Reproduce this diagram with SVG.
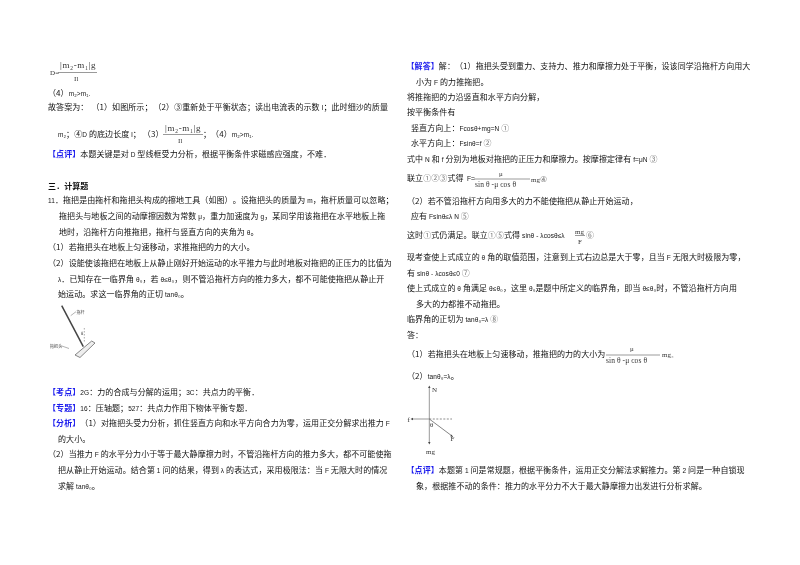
<svg xmlns="http://www.w3.org/2000/svg" width="800" height="565" viewBox="0 0 800 565">
<style>
text{font-family:"Noto Sans CJK SC","Liberation Sans",sans-serif;font-size:8px;fill:#111;text-spacing-trim:space-all;letter-spacing:.08px}
.l{font-family:"Liberation Sans",sans-serif;font-size:6.5px}
.b{fill:#1a1aee;font-weight:700}
.h{font-weight:700}
.c{fill:#777}
.m{font-family:"Liberation Serif",serif;font-size:7px;fill:#333}
.n{font-size:9px;letter-spacing:.6px}
.s{font-size:4px;fill:#444}
.fr{stroke:#555;stroke-width:.6;fill:none}
</style>
<defs><filter id="soft" x="0" y="0" width="1" height="1"><feGaussianBlur stdDeviation="0.32"/></filter></defs>
<rect width="800" height="565" fill="#fff"/>
<g filter="url(#soft)">
<g id="left">
<text class="m" x="50" y="75">D=</text>
<text class="m n" x="60" y="68">|m₂-m₁|g</text>
<path class="fr" d="M58 72.500H97"/>
<text class="m" x="74" y="81">Il</text>
<text x="48" y="95.500">（4）<tspan class="l">m₂&gt;m₁.</tspan></text>
<text x="48" y="110">故答案为：<tspan dx="3">（1）</tspan>如图所示；<tspan dx="1">（2）</tspan>③重新处于平衡状态；读出电流表的示数 <tspan class="l">I</tspan>；此时细沙的质量</text>
<text x="58" y="137"><tspan class="l">m₂</tspan>；④<tspan class="l">D</tspan> 的底边长度 <tspan class="l">l</tspan>；<tspan dx="2">（3）</tspan></text>
<text class="m n" x="165" y="131">|m₂-m₁|g</text>
<path class="fr" d="M163 134.500H203"/>
<text class="m" x="178" y="143">Il</text>
<text x="203" y="137">；（4）<tspan class="l">m₂&gt;m₁.</tspan></text>
<text x="48" y="157"><tspan class="b">【点评】</tspan>本题关键是对 <tspan class="l">D</tspan> 型线框受力分析，根据平衡条件求磁感应强度，不难．</text>
<text class="h" x="48" y="189">三．计算题</text>
<text x="48" y="203"><tspan class="l">11</tspan>．拖把是由拖杆和拖把头构成的擦地工具（如图）。设拖把头的质量为 <tspan class="l">m</tspan>，拖杆质量可以忽略；</text>
<text x="59" y="219">拖把头与地板之间的动摩擦因数为常数 <tspan class="l">μ</tspan>，重力加速度为 <tspan class="l">g</tspan>，某同学用该拖把在水平地板上拖</text>
<text x="59" y="235">地时，沿拖杆方向推拖把，拖杆与竖直方向的夹角为 <tspan class="l">θ</tspan>。</text>
<text x="48" y="250">（1）若拖把头在地板上匀速移动，求推拖把的力的大小。</text>
<text x="48" y="266">（2）设能使该拖把在地板上从静止刚好开始运动的水平推力与此时地板对拖把的正压力的比值为</text>
<text x="58" y="282"><tspan class="l">λ</tspan>．已知存在一临界角 <tspan class="l">θ₀</tspan>，若 <tspan class="l">θ≤θ₀</tspan>，则不管沿拖杆方向的推力多大，都不可能使拖把从静止开</text>
<text x="58" y="297">始运动。求这一临界角的正切 <tspan class="l">tanθ₀</tspan>。</text>
<g id="mop">
<path d="M61.700 305.700L83.300 346.700" stroke="#444" stroke-width="1.500" fill="none"/>
<path d="M75 355L80 357.500L95 343L91.700 341Z" fill="#eee" stroke="#555" stroke-width=".7"/>
<path d="M70.700 315.700L76 311.700M61 345.700L69 348.500" stroke="#666" stroke-width=".5" fill="none"/>
<path d="M84.300 328V342" stroke="#555" stroke-width=".5" stroke-dasharray="1.500 1.500" fill="none"/>
<text class="s" x="76.500" y="313.500">拖杆</text>
<text class="s" x="50" y="347.500">拖把头</text>
<text class="s" x="81" y="335">θ</text>
</g>
<text x="48" y="395"><tspan class="b">【考点】</tspan><tspan class="l">2G</tspan>：力的合成与分解的运用；<tspan class="l">3C</tspan>：共点力的平衡．</text>
<text x="48" y="411"><tspan class="b">【专题】</tspan><tspan class="l">16</tspan>：压轴题；<tspan class="l">527</tspan>：共点力作用下物体平衡专题．</text>
<text x="48" y="426"><tspan class="b">【分析】</tspan>（1）对拖把头受力分析，抓住竖直方向和水平方向合力为零，运用正交分解求出推力 <tspan class="l">F</tspan></text>
<text x="58" y="442">的大小。</text>
<text x="48" y="457">（2）当推力 <tspan class="l">F</tspan> 的水平分力小于等于最大静摩擦力时，不管沿拖杆方向的推力多大，都不可能使拖</text>
<text x="58" y="473">把从静止开始运动。结合第 <tspan class="l">1</tspan> 问的结果，得到 <tspan class="l">λ</tspan> 的表达式，采用极限法：当 <tspan class="l">F</tspan> 无限大时的情况</text>
<text x="58" y="489">求解 <tspan class="l">tanθ₀</tspan>。</text>
</g>
<g id="right">
<text x="406.500" y="69"><tspan class="b">【解答】</tspan>解：（1）拖把头受到重力、支持力、推力和摩擦力处于平衡，设该同学沿拖杆方向用大</text>
<text x="416" y="85">小为 <tspan class="l">F</tspan> 的力推拖把。</text>
<text x="407" y="100">将推拖把的力沿竖直和水平方向分解，</text>
<text x="407" y="115">按平衡条件有</text>
<text x="411" y="131">竖直方向上：<tspan class="l">Fcosθ+mg=N</tspan> <tspan class="c">①</tspan></text>
<text x="411" y="146">水平方向上：<tspan class="l">Fsinθ=f</tspan> <tspan class="c">②</tspan></text>
<text x="407" y="162">式中 <tspan class="l">N</tspan> 和 <tspan class="l">f</tspan> 分别为地板对拖把的正压力和摩擦力。按摩擦定律有 <tspan class="l">f=μN</tspan> <tspan class="c">③</tspan></text>
<text x="407" y="181">联立<tspan class="c">①②③</tspan>式得</text>
<text class="l" x="467" y="181">F=</text>
<text class="m" x="499" y="176">μ</text>
<path class="fr" d="M474 179H530"/>
<text class="m" x="475" y="187" style="font-size:7.500px">sin θ -μ cos θ</text>
<text class="m" x="531" y="181.500">mg<tspan class="c" style="font-size:8px">④</tspan></text>
<text x="407" y="204">（2）若不管沿拖杆方向用多大的力不能使拖把从静止开始运动，</text>
<text x="411" y="219">应有 <tspan class="l">Fsinθ≤λ N</tspan> <tspan class="c">⑤</tspan></text>
<text x="407" y="238">这时<tspan class="c">①</tspan>式仍满足。联立<tspan class="c">①⑤</tspan>式得 <tspan class="l">sinθ - λcosθ≤λ</tspan></text>
<text class="m" x="575" y="234">mg</text>
<path class="fr" d="M575 235.500H585"/>
<text class="m" x="578" y="243.500">F</text>
<text class="c" x="586" y="238">⑥</text>
<text x="407" y="260">现考查使上式成立的 <tspan class="l">θ</tspan> 角的取值范围，注意到上式右边总是大于零，且当 <tspan class="l">F</tspan> 无限大时极限为零，</text>
<text x="407" y="276">有 <tspan class="l">sinθ - λcosθ≤0</tspan> <tspan class="c">⑦</tspan></text>
<text x="407" y="291">使上式成立的 <tspan class="l">θ</tspan> 角满足 <tspan class="l">θ≤θ₀</tspan>，这里 <tspan class="l">θ₀</tspan>是题中所定义的临界角，即当 <tspan class="l">θ≤θ₀</tspan>时，不管沿拖杆方向用</text>
<text x="416" y="307">多大的力都推不动拖把。</text>
<text x="407" y="322">临界角的正切为 <tspan class="l">tanθ₀=λ</tspan> <tspan class="c">⑧</tspan></text>
<text x="407" y="338">答：</text>
<text x="407" y="357">（1）若拖把头在地板上匀速移动，推拖把的力的大小为</text>
<text class="m" x="630" y="351">μ</text>
<path class="fr" d="M606 355H660"/>
<text class="m" x="606" y="363" style="font-size:7.500px">sin θ -μ cos θ</text>
<text class="m" x="662" y="357">mg。</text>
<text x="407" y="379">（2）<tspan class="l">tanθ₀=λ</tspan>。</text>
<g id="forces">
<path d="M429.300 387V443M429.300 419H412" stroke="#999" stroke-width="1" fill="none"/>
<path d="M429.300 419H452" stroke="#444" stroke-width=".6" stroke-dasharray="2 1.500" fill="none"/>
<path d="M429.300 419L452.700 436.500" stroke="#666" stroke-width=".8" fill="none"/>
<path d="M429.300 385.500l-1.200 2.500h2.400zM429.300 444.500l-1.200 -2.500h2.400zM410.500 419l2.500 -1.200v2.400zM453 437l-2.800 -.7l1.300 -1.900z" fill="#444"/>
<text class="m" x="432" y="392">N</text>
<text class="m" x="407.500" y="422">f</text>
<text class="m" x="450.500" y="441">F</text>
<text class="m" x="426" y="454">mg</text>
<text class="m" x="430" y="427">θ</text>
</g>
<text x="406.500" y="473"><tspan class="b">【点评】</tspan>本题第 <tspan class="l">1</tspan> 问是常规题，根据平衡条件，运用正交分解法求解推力。第 <tspan class="l">2</tspan> 问是一种自锁现</text>
<text x="416" y="489">象，根据推不动的条件：推力的水平分力不大于最大静摩擦力出发进行分析求解。</text>
</g>
</g>
</svg>
